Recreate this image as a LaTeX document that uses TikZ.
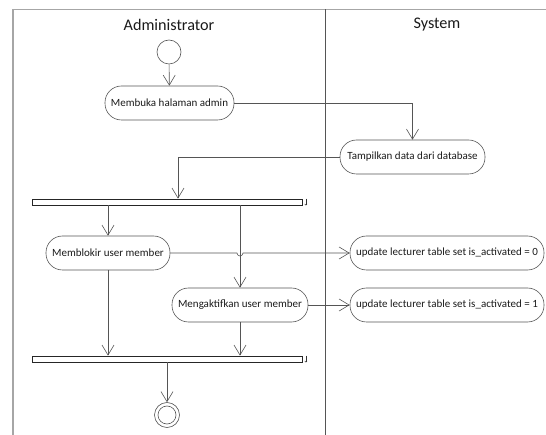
\documentclass[tikz,border=0pt]{standalone}
\usepackage{fontspec}
\setmainfont{Carlito}
\usetikzlibrary{arrows.meta,calc}
\definecolor{ln}{HTML}{555555}
\definecolor{tx}{HTML}{1A1A1A}
\tikzset{
  act/.style={draw=ln, line width=0.6pt, rounded corners=16.5pt, minimum height=34pt, inner sep=0pt, font=\fontsize{11}{12}\selectfont, text=tx},
  bar/.style={draw=black!85, line width=0.7pt, fill=white, minimum height=6pt, minimum width=270pt, inner sep=0pt},
  arr/.style={draw=ln, line width=0.6pt, -{Straight Barb[length=10pt,width=12pt,line width=0.6pt]}},
  ttl/.style={font=\fontsize{16.2}{18}\selectfont, text=tx}
}
\begin{document}
\begin{tikzpicture}[x=1pt,y=-1pt]
\useasboundingbox (0,0) rectangle (546,435);
% frame
\draw[black!35, line width=1.3pt] (13,436) -- (13,9.5) -- (547,9.5);
\draw[ln, line width=0.6pt] (325,9.5) -- (325,436);
\node[ttl] (tadmin) at (169,25) {Administrator};
\node[ttl] (tsys) at (437,25) {System};
% nodes
\node[draw=ln, line width=0.6pt, circle, minimum size=24pt, inner sep=0pt] (start) at (169,52) {};
\node[act, minimum width=129pt] (membuka) at (169.5,103) {Membuka halaman admin};
\node[act, minimum width=145pt] (tampil) at (412.5,157) {Tampilkan data dari database};
\node[bar] (fork1) at (167,202) {};
\node[act, minimum width=124pt] (blokir) at (108,253) {Memblokir user member};
\node[act, minimum width=136pt] (aktif) at (240,305) {Mengaktifkan user member};
\node[act, minimum width=194pt] (upd0) at (447,253) {update lecturer table set is\_activated = 0};
\node[act, minimum width=194pt] (upd1) at (447,305) {update lecturer table set is\_activated = 1};
\node[bar] (join) at (167,359) {};
\node[draw=ln, line width=0.6pt, circle, minimum size=25pt, inner sep=0pt] (final) at (167,415) {};
\node[draw=ln, line width=0.6pt, circle, minimum size=18pt, inner sep=0pt] at (final) {};
% small marks on bars
\draw[black!80, line width=0.5pt, -{To[length=1.5pt,width=2.5pt]}] ([xshift=3.5pt]fork1.north east) -- ([xshift=3.5pt]fork1.south east);
\draw[black!80, line width=0.5pt, -{To[length=1.5pt,width=2.5pt]}] ([xshift=3.5pt]join.north east) -- ([xshift=3.5pt]join.south east);
% connectors
\draw[arr] (start) -- (membuka);
\draw[arr] (membuka.east) -| (tampil.north);
\draw[arr] (tampil.west) -| ([xshift=11pt]fork1.north);
\draw[arr] (blokir.north |- fork1.south) -- (blokir.north);
\draw[arr] (aktif.north |- fork1.south) -- (aktif.north);
\draw[arr] (blokir.east) -- ([xshift=-3pt]blokir.east -| aktif.north) arc[start angle=180, end angle=360, radius=3pt] -- (upd0.west);
\draw[arr] (aktif.east) -- (upd1.west);
\draw[arr] (blokir.south) -- (blokir.south |- join.north);
\draw[arr] (aktif.south) -- (aktif.south |- join.north);
\draw[arr] (join.south) -- (final.north);
\end{tikzpicture}
\end{document}
